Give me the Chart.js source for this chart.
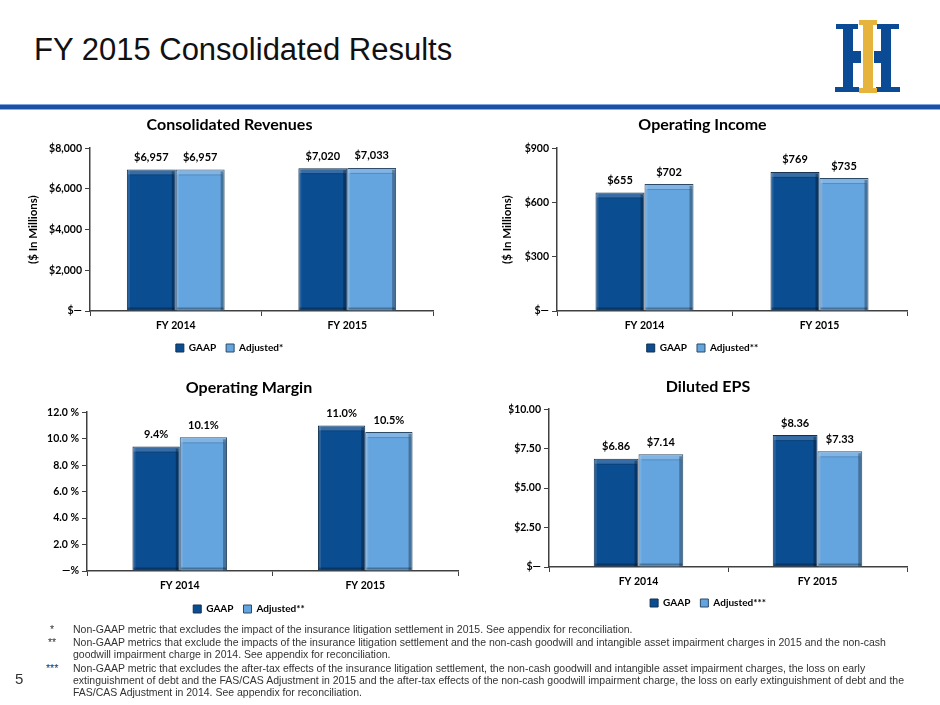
<!DOCTYPE html>
<html>
<head>
<meta charset="utf-8">
<script src="https://cdn.jsdelivr.net/npm/chart.js@4.4.0/dist/chart.umd.min.js"></script>
<style>
html,body{margin:0;padding:0;background:#fff;}
body{width:940px;height:705px;position:relative;overflow:hidden;font-family:"Liberation Sans",Arial,sans-serif;}
#title{position:absolute;left:34px;top:32px;font-size:31px;line-height:36px;color:#111;white-space:nowrap;}
#band{position:absolute;left:0;top:104px;width:940px;height:6px;background:linear-gradient(#7fa3dc 0,#7fa3dc 1px,#1c4fa6 1px,#1c4fa6 5px,#8aaee0 5px,#8aaee0 6px);}
canvas{position:absolute;}
.fn{position:absolute;font-family:"Liberation Sans",Arial,sans-serif;font-size:10.5px;line-height:12px;color:#333;white-space:nowrap;}
#page{position:absolute;left:15px;top:671px;font-size:15px;line-height:16px;color:#333;}
#logo{position:absolute;left:830px;top:16px;}
</style>
</head>
<body>
<div id="title">FY 2015 Consolidated Results</div>
<svg id="logo" width="75" height="82" viewBox="830 16 75 82">
  <g fill="#0b4a94">
    <rect x="836" y="24" width="22" height="5"/>
    <rect x="843" y="24" width="10" height="68"/>
    <rect x="835" y="87" width="24" height="5"/>
    <rect x="852" y="51" width="9" height="12"/>
    <rect x="877" y="24" width="22" height="5"/>
    <rect x="881" y="24" width="10" height="68"/>
    <rect x="876" y="87" width="24" height="5"/>
    <rect x="874" y="51" width="9" height="12"/>
  </g>
  <g fill="#e6b43d">
    <rect x="859" y="20" width="18" height="5"/>
    <rect x="863" y="20" width="10" height="73"/>
    <rect x="859" y="88" width="18" height="5"/>
  </g>
</svg>
<div id="band"></div>

<canvas id="c1" width="470" height="260" style="left:0;top:105px;width:470px;height:260px"></canvas>
<canvas id="c2" width="470" height="260" style="left:470px;top:105px;width:470px;height:260px"></canvas>
<canvas id="c3" width="470" height="256" style="left:0;top:368px;width:470px;height:256px"></canvas>
<canvas id="c4" width="470" height="250" style="left:470px;top:368px;width:470px;height:250px"></canvas>

<div class="fn" style="left:50px;top:623px">*</div>
<div class="fn" style="left:73px;top:623px">Non-GAAP metric that excludes the impact of the insurance litigation settlement in 2015. See appendix for reconciliation.</div>
<div class="fn" style="left:48px;top:636px">**</div>
<div class="fn" style="left:73px;top:636px">Non-GAAP metrics that exclude the impacts of the insurance litigation settlement and the non-cash goodwill and intangible asset impairment charges in 2015 and the non-cash</div>
<div class="fn" style="left:73px;top:648px">goodwill impairment charge in 2014. See appendix for reconciliation.</div>
<div class="fn" style="left:46px;top:662px">***</div>
<div class="fn" style="left:73px;top:662px">Non-GAAP metric that excludes the after-tax effects of the insurance litigation settlement, the non-cash goodwill and intangible asset impairment charges, the loss on early</div>
<div class="fn" style="left:73px;top:674px">extinguishment of debt and the FAS/CAS Adjustment in 2015 and the after-tax effects of the non-cash goodwill impairment charge, the loss on early extinguishment of debt and the</div>
<div class="fn" style="left:73px;top:686px">FAS/CAS Adjustment in 2014. See appendix for reconciliation.</div>
<div id="page">5</div>

<script>
// ---------- data ----------
const categories = ['FY 2014', 'FY 2015'];
const seriesNames = ['GAAP', 'Adjusted*', 'Adjusted**', 'Adjusted***'];

const revenueGAAP = [6957, 7020];
const revenueAdjusted = [6957, 7033];
const revenueTicks = ['$\u2014', '$2,000', '$4,000', '$6,000', '$8,000'];

const incomeGAAP = [655, 769];
const incomeAdjusted = [702, 735];
const incomeTicks = ['$\u2014', '$300', '$600', '$900'];

const marginGAAP = [9.4, 11.0];
const marginAdjusted = [10.1, 10.5];
const marginTicks = ['\u2014%', '2.0 %', '4.0 %', '6.0 %', '8.0 %', '10.0 %', '12.0 %'];

const epsGAAP = [6.86, 8.36];
const epsAdjusted = [7.14, 7.33];
const epsTicks = ['$\u2014', '$2.50', '$5.00', '$7.50', '$10.00'];

// ---------- styling ----------
const FONT = 'Lato, "Open Sans", "DejaVu Sans", sans-serif';
const DARK = '#0b4d91';
const DARK_EDGE = '#14304f';
const LIGHT = '#64a4df';
const LIGHT_EDGE = '#2c4a66';
const AXIS = '#404040';

const bevelPlugin = {
  id: 'bevel',
  afterDatasetsDraw(chart) {
    const ctx = chart.ctx;
    chart.data.datasets.forEach((ds, di) => {
      const meta = chart.getDatasetMeta(di);
      meta.data.forEach(el => {
        const p = el.getProps(['x', 'y', 'base', 'width'], true);
        const l = p.x - p.width / 2, r = p.x + p.width / 2, t = p.y, b = p.base, w = p.width, h = b - t;
        ctx.save();
        ctx.fillStyle = 'rgba(255,255,255,0.18)';
        ctx.fillRect(l + 1, t + 1, w - 2, 4);
        ctx.fillStyle = 'rgba(0,0,0,0.15)';
        ctx.fillRect(l + 3, t + 5, w - 6, 1);
        ctx.fillStyle = 'rgba(255,255,255,0.12)';
        ctx.fillRect(l + 1, t + 1, 2, h - 2);
        ctx.fillStyle = 'rgba(0,0,0,0.3)';
        ctx.fillRect(r - 4, t + 2, 3, h - 2);
        ctx.fillRect(l + 1, b - 3, w - 2, 2);
        ctx.restore();
      });
    });
  }
};

const labelPlugin = {
  id: 'barLabels',
  afterDatasetsDraw(chart, args, opts) {
    const ctx = chart.ctx;
    ctx.save();
    ctx.font = 'bold 11px ' + FONT;
    ctx.fillStyle = '#000';
    ctx.textAlign = 'center';
    ctx.textBaseline = 'middle';
    chart.data.datasets.forEach((ds, di) => {
      const meta = chart.getDatasetMeta(di);
      meta.data.forEach((el, j) => {
        ctx.fillText(opts.fmt(ds.data[j]), el.x, el.y - 12);
      });
    });
    ctx.restore();
  }
};

function build(id, o) {
  const tickFont = {family: FONT, weight: 'bold', size: 10.5};
  return new Chart(document.getElementById(id), {
    type: 'bar',
    data: {
      labels: categories,
      datasets: [
        {label: seriesNames[0], data: o.gaap, backgroundColor: DARK, borderColor: DARK_EDGE, borderWidth: 1},
        {label: o.adjName, data: o.adj, backgroundColor: LIGHT, borderColor: LIGHT_EDGE, borderWidth: 1}
      ]
    },
    options: {
      responsive: false,
      animation: false,
      layout: {padding: o.pad},
      datasets: {bar: {categoryPercentage: o.cat, barPercentage: 1}},
      plugins: {
        title: {display: true, text: o.title, color: '#000',
                font: {family: FONT, weight: 'bold', size: 16, lineHeight: 1.2},
                padding: {top: o.tTop, bottom: o.tBot}},
        legend: {position: 'bottom',
                 labels: {boxWidth: 8, boxHeight: 8, padding: 10, color: '#000',
                          font: {family: FONT, weight: 'bold', size: 10}}},
        tooltip: {enabled: false},
        barLabels: {fmt: o.fmt}
      },
      scales: {
        x: {
          grid: {display: true, drawOnChartArea: false, drawTicks: true, tickLength: 5, color: AXIS, offset: true, lineWidth: 1},
          border: {display: true, color: AXIS, width: 1.5},
          ticks: {font: tickFont, color: '#000', padding: 3, maxRotation: 0},
          afterFit: s => { s.height = o.xh; }
        },
        y: {
          min: 0, max: o.max,
          ticks: {stepSize: o.step, font: tickFont, color: '#000', padding: 3,
                  callback: (v, i) => o.ticks[i]},
          grid: {display: true, drawOnChartArea: false, drawTicks: true, tickLength: 5, color: AXIS, lineWidth: 1},
          border: {display: true, color: AXIS, width: 1.5},
          title: o.yTitle ? {display: true, text: o.yTitle, color: '#000',
                             font: {family: FONT, weight: 'bold', size: 11.5, lineHeight: 1.2},
                             padding: {top: o.yTitlePad, bottom: 0}} : {display: false},
          afterFit: s => { s.width = o.yw; }
        }
      }
    },
    plugins: [bevelPlugin, labelPlugin]
  });
}

const fmtMoney0 = v => '$' + v.toLocaleString('en-US');
const fmtPct = v => v.toFixed(1) + '%';
const fmtMoney2 = v => '$' + v.toFixed(2);

build('c1', {title: 'Consolidated Revenues', gaap: revenueGAAP, adj: revenueAdjusted, adjName: seriesNames[1],
  max: 8000, step: 2000, ticks: revenueTicks, fmt: fmtMoney0, yTitle: '($ In Millions)', yTitlePad: 0,
  pad: {left: 26, right: 37, top: 0, bottom: 2}, yw: 64, xh: 22, tTop: 10, tBot: 14, cat: 0.57});

build('c2', {title: 'Operating Income', gaap: incomeGAAP, adj: incomeAdjusted, adjName: seriesNames[2],
  max: 900, step: 300, ticks: incomeTicks, fmt: fmtMoney0, yTitle: '($ In Millions)', yTitlePad: 2,
  pad: {left: 28, right: 33, top: 0, bottom: 2}, yw: 59, xh: 22, tTop: 10, tBot: 14, cat: 0.56});

build('c3', {title: 'Operating Margin', gaap: marginGAAP, adj: marginAdjusted, adjName: seriesNames[2],
  max: 12, step: 2, ticks: marginTicks, fmt: fmtPct, yTitle: null,
  pad: {left: 40, right: 12, top: 0, bottom: 0}, yw: 47, xh: 23, tTop: 10, tBot: 15, cat: 0.51});

build('c4', {title: 'Diluted EPS', gaap: epsGAAP, adj: epsAdjusted, adjName: seriesNames[3],
  max: 10, step: 2.5, ticks: epsTicks, fmt: fmtMoney2, yTitle: null,
  pad: {left: 39, right: 33, top: 0, bottom: 0}, yw: 40, xh: 21, tTop: 9, tBot: 13, cat: 0.5});
</script>
</body>
</html>
